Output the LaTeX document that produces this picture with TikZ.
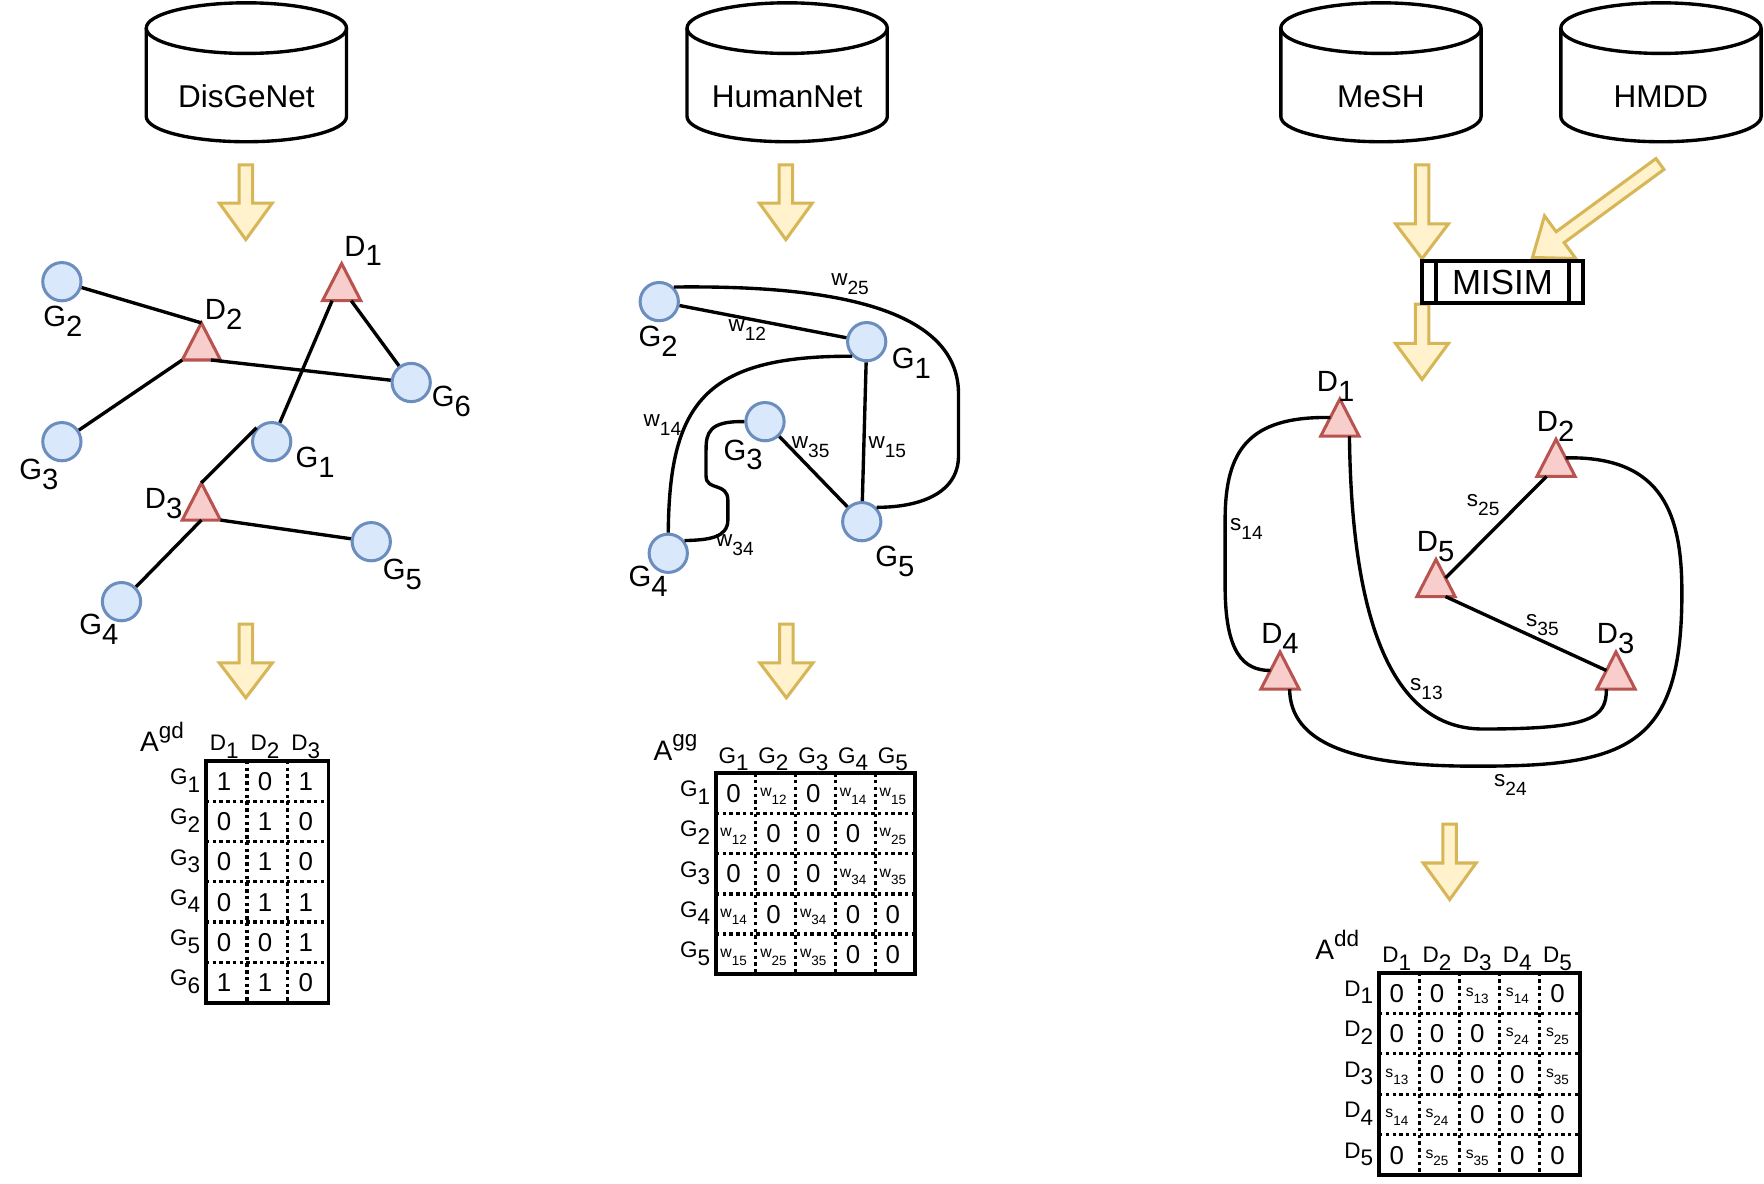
\documentclass[tikz,border=0pt]{standalone}
\usepackage{fontspec}
\setmainfont{Liberation Sans}
\usetikzlibrary{calc}
\definecolor{gfill}{HTML}{DAE8FC}
\definecolor{gline}{HTML}{6C8EBF}
\definecolor{dfill}{HTML}{F8CECC}
\definecolor{dline}{HTML}{B85450}
\definecolor{afill}{HTML}{FFF2CC}
\definecolor{aline}{HTML}{D6B656}
\newcommand{\fsz}[1]{\fontsize{#1}{#1}\selectfont}
\newcommand{\nlab}[2]{#1\raisebox{-0.34em}{#2}}
\newcommand{\elab}[2]{#1\raisebox{-0.4em}{\fsz{17}#2}}
\newcommand{\clab}[2]{\raisebox{5.2pt}{\fsz{14}#1\raisebox{-0.48em}{\fsz{12}#2}}}
\newcommand{\amat}[2]{#1\raisebox{11.8pt}{\fsz{20}#2}}
\newcommand{\barrow}[4]{\draw[arrowst] ({#1-6},{#2}) -- ({#1-6},{#2+#3}) -- ({#1-23.5},{#2+#3}) -- ({#1},{#2+#3+#4}) -- ({#1+23.5},{#2+#3}) -- ({#1+6},{#2+#3}) -- ({#1+6},{#2}) -- cycle;}
\newcommand{\cyl}[1]{\draw[cylst] (#1,25) ellipse [x radius=89, y radius=22.5];
  \draw[cylst] ({#1-89},25) -- ({#1-89},103.5) arc[start angle=180, end angle=0, x radius=89, y radius=22.5] -- ({#1+89},25);}
\tikzset{
  gnode/.style={circle, draw=gline, fill=gfill, line width=2.7, minimum size=34, inner sep=0pt},
  link/.style={line width=3},
  nlabel/.style={font=\fsz{26}, inner sep=0pt, anchor=base west},
  wlabel/.style={font=\fsz{20}, inner sep=0pt, anchor=base west},
  arrowst/.style={fill=afill, draw=aline, line width=2.7},
  cylst/.style={line width=3},
  dbtext/.style={font=\fsz{28}, inner sep=0pt, anchor=base},
  mbox/.style={line width=3.5},
  mdot/.style={line width=3, dash pattern=on 3pt off 3pt},
  cell/.style={font=\fsz{23}, inner sep=0pt, anchor=base},
  rowlab/.style={font=\fsz{20}, inner sep=0pt, anchor=base east},
  collab/.style={font=\fsz{20}, inner sep=0pt, anchor=base},
  alab/.style={font=\fsz{25}, inner sep=0pt, anchor=base west},
  misimst/.style={draw, line width=3.3, minimum width=143, minimum height=37.6, inner sep=0pt, font=\fsz{31}},
  tri/.pic={\draw[fill=dfill, draw=dline, line width=2.7] (0,-16.5) coordinate (-apex) -- (17,16.5) coordinate (-right) -- (-17,16.5) coordinate (-left) -- cycle;
    \coordinate (-base) at (0,16.5);}
}
\begin{document}
\begin{tikzpicture}[x=1pt,y=-1pt]
\fill[white] (0,0) rectangle (1568,1052);
\useasboundingbox (0,0) rectangle (1568,1052);

% ---------- databases ----------
\cyl{219}
\node[dbtext] (disgenet) at (219,95.5) {DisGeNet};
\cyl{699.7}
\node[dbtext] (humannet) at (699.7,95.5) {HumanNet};
\cyl{1227.5}
\node[dbtext] (mesh) at (1227.5,95.5) {MeSH};
\cyl{1476.4}
\node[dbtext] (hmdd) at (1476.4,95.5) {HMDD};

% ---------- block arrows ----------
\barrow{218.5}{146.5}{34}{32.5}
\barrow{218.5}{554.8}{34.5}{31}
\barrow{698.5}{146.5}{34}{32.5}
\barrow{699}{554.8}{34.5}{31}
\barrow{1264}{146.5}{52.5}{31}
\barrow{1264}{270.3}{35}{32}
\barrow{1288.6}{732.6}{34.5}{32.5}
\begin{scope}[shift={(1476.3,145.2)}, rotate=-53.75]
\barrow{0}{1}{110}{30.5}
\end{scope}

% ---------- MISIM ----------
\node[misimst] (misim) at (1335.5,250.8) {MISIM};
\draw[line width=3.3] ([xshift=14.3pt]misim.north west) -- ([xshift=14.3pt]misim.south west);
\draw[line width=3.3] ([xshift=-14.3pt]misim.north east) -- ([xshift=-14.3pt]misim.south east);

% ---------- graph 1 ----------
\node[gnode] (aG2) at (55,250.4) {};
\node[gnode] (aG6) at (365.5,340) {};
\node[gnode] (aG3) at (55,392.6) {};
\node[gnode] (aG1) at (241.5,392.6) {};
\node[gnode] (aG5) at (330,481.5) {};
\node[gnode] (aG4) at (108,534.8) {};
\pic (aD1) at (303.7,250.8) {tri};
\pic (aD2) at (179,303.5) {tri};
\pic (aD3) at (179,445.8) {tri};
\draw[link] (aG2) -- (aD2-apex);
\draw[link] ($(aD2-base)!0.5!(aD2-right)$) -- (aG6);
\draw[link] (aD2-left) -- (aG3);
\draw[link] ($(aD1-base)!0.5!(aD1-left)$) -- (aG1);
\draw[link] ($(aD1-base)!0.5!(aD1-right)$) -- (aG6);
\draw[link] (aG1.137) -- (aD3-apex);
\draw[link] (aD3-right) -- (aG5);
\draw[link] (aD3-base) -- (aG4);
\node[nlabel] (laG2) at (38.4,290.4) {\nlab{G}{2}};
\node[nlabel] (laD2) at (182,284.4) {\nlab{D}{2}};
\node[nlabel] (laD1) at (306,227.6) {\nlab{D}{1}};
\node[nlabel] (laG6) at (383.7,361.5) {\nlab{G}{6}};
\node[nlabel] (laG3) at (17,426) {\nlab{G}{3}};
\node[nlabel] (laG1) at (262.6,415.4) {\nlab{G}{1}};
\node[nlabel] (laD3) at (128.6,451.9) {\nlab{D}{3}};
\node[nlabel] (laG5) at (340.2,515) {\nlab{G}{5}};
\node[nlabel] (laG4) at (70.4,564.4) {\nlab{G}{4}};

% ---------- graph 2 ----------
\node[gnode] (bG2) at (586,268.1) {};
\node[gnode] (bG1) at (770.4,303.7) {};
\node[gnode] (bG3) at (680,374.8) {};
\node[gnode] (bG4) at (594,491.8) {};
\node[gnode] (bG5) at (766,463.7) {};
\draw[link] (bG2) -- (bG1);
\draw[link] (bG2.45) .. controls (700,254) and (852,262) .. (852,350) -- (852,405) .. controls (852,440) and (815,451) .. (bG5.44);
\draw[link] (bG1.225) .. controls (625,316) and (595,360) .. (bG4.north);
\draw[link] (bG3.west) .. controls (630,374) and (627.6,385) .. (627.6,400) -- (627.6,423) .. controls (627.6,437) and (647,428) .. (647,445) -- (647,462) .. controls (647,478) and (630,480) .. (bG4.38);
\draw[link] (bG3) -- (bG5);
\draw[link] (bG1) -- (bG5);
\node[nlabel] (lbG2) at (567.4,308.1) {\nlab{G}{2}};
\node[nlabel] (lbG1) at (792.6,327.4) {\nlab{G}{1}};
\node[nlabel] (lbG3) at (643,408.9) {\nlab{G}{3}};
\node[nlabel] (lbG4) at (558.5,521.5) {\nlab{G}{4}};
\node[nlabel] (lbG5) at (777.8,503.7) {\nlab{G}{5}};
\node[wlabel] (w25) at (738.7,254.2) {\elab{w}{25}};
\node[wlabel] (w12) at (647.4,294.8) {\elab{w}{12}};
\node[wlabel] (w14) at (571.9,379.3) {\elab{w}{14}};
\node[wlabel] (w35) at (703.7,398.5) {\elab{w}{35}};
\node[wlabel] (w15) at (771.8,398.5) {\elab{w}{15}};
\node[wlabel] (w34) at (636.4,486) {\elab{w}{34}};

% ---------- graph 3 ----------
\pic (cD1) at (1191,371.1) {tri};
\pic (cD2) at (1383.1,407) {tri};
\pic (cD5) at (1276.4,513.8) {tri};
\pic (cD4) at (1137.8,596) {tri};
\pic (cD3) at (1436.4,596) {tri};
\draw[link] ($(cD1-apex)!0.5!(cD1-left)$) .. controls (1110,370) and (1089,400) .. (1089,462) -- (1089,521) .. controls (1089,580) and (1105,596) .. ($(cD4-apex)!0.5!(cD4-left)$);
\draw[link] ($(cD1-base)!0.5!(cD1-right)$) .. controls (1201,520) and (1225,648) .. (1318,648) .. controls (1415,648) and (1428,638) .. ($(cD3-base)!0.5!(cD3-left)$);
\draw[link] ($(cD2-apex)!0.5!(cD2-right)$) .. controls (1480,405) and (1495,460) .. (1495,527) .. controls (1495,660) and (1450,681) .. (1318,681) .. controls (1200,682) and (1147,660) .. ($(cD4-base)!0.5!(cD4-right)$);
\draw[link] ($(cD5-apex)!0.5!(cD5-right)$) -- ($(cD2-left)!0.5!(cD2-base)$);
\draw[link] ($(cD5-base)!0.5!(cD5-right)$) -- ($(cD3-apex)!0.5!(cD3-left)$);
\node[nlabel] (lcD1) at (1170.4,348.1) {\nlab{D}{1}};
\node[nlabel] (lcD2) at (1366,383.7) {\nlab{D}{2}};
\node[nlabel] (lcD5) at (1259.3,490.4) {\nlab{D}{5}};
\node[nlabel] (lcD4) at (1121,571.9) {\nlab{D}{4}};
\node[nlabel] (lcD3) at (1419.3,571.9) {\nlab{D}{3}};
\node[wlabel] (s25) at (1303.7,450.4) {\elab{s}{25}};
\node[wlabel] (s14) at (1093.3,471.7) {\elab{s}{14}};
\node[wlabel] (s35) at (1356.4,557) {\elab{s}{35}};
\node[wlabel] (s13) at (1253.3,614) {\elab{s}{13}};
\node[wlabel] (s24) at (1328,698.7) {\elab{s}{24}};

% ---------- matrix A^gd ----------
\foreach \i in {1,2} \draw[mdot] ({183.1+\i*36.3},676.4) -- ({183.1+\i*36.3},891.2);
\foreach \j in {1,...,5} \draw[mdot] (183.1,{676.4+\j*35.8}) -- (292,{676.4+\j*35.8});
\draw[mbox] (183.1,676.4) rectangle (292,891.2);
\foreach \r/\row in {1/{1,0,1},2/{0,1,0},3/{0,1,0},4/{0,1,1},5/{0,0,1},6/{1,1,0}}{
  \foreach \v [count=\c] in \row {\node[cell] (mA-\r-\c) at ({183.1+(\c-0.5)*36.3-2},{676.4+(\r-0.5)*35.8+8.2}) {\v};}
  \node[rowlab] (mA-r\r) at (178,{676.4+(\r-0.5)*35.8+3}) {\nlab{G}{\r}};
}
\foreach \c in {1,2,3} \node[collab] (mA-c\c) at ({183.1+(\c-0.5)*36.3-2},667.4) {\nlab{D}{\c}};
\node[alab] (mA) at (124.4,668.1) {\amat{A}{gd}};

% ---------- matrix A^gg ----------
\foreach \i in {1,...,4} \draw[mdot] ({636.4+\i*35.4},687.4) -- ({636.4+\i*35.4},865.9);
\foreach \j in {1,...,4} \draw[mdot] (636.4,{687.4+\j*35.7}) -- (813.4,{687.4+\j*35.7});
\draw[mbox] (636.4,687.4) rectangle (813.4,865.9);
\foreach \r/\row in {1/{0,\clab{w}{12},0,\clab{w}{14},\clab{w}{15}},
                     2/{\clab{w}{12},0,0,0,\clab{w}{25}},
                     3/{0,0,0,\clab{w}{34},\clab{w}{35}},
                     4/{\clab{w}{14},0,\clab{w}{34},0,0},
                     5/{\clab{w}{15},\clab{w}{25},\clab{w}{35},0,0}}{
  \foreach \v [count=\c] in \row {\node[cell] (mB-\r-\c) at ({636.4+(\c-0.5)*35.4-2},{687.4+(\r-0.5)*35.7+8.2}) {\v};}
  \node[rowlab] (mB-r\r) at (631.4,{687.4+(\r-0.5)*35.7+3}) {\nlab{G}{\r}};
}
\foreach \c in {1,...,5} \node[collab] (mB-c\c) at ({636.4+(\c-0.5)*35.4-2},678.4) {\nlab{G}{\c}};
\node[alab] (mB) at (580.7,675.6) {\amat{A}{gg}};

% ---------- matrix A^dd ----------
\foreach \i in {1,...,4} \draw[mdot] ({1225.8+\i*35.7},864.6) -- ({1225.8+\i*35.7},1044.6);
\foreach \j in {1,...,4} \draw[mdot] (1225.8,{864.6+\j*36}) -- (1404.3,{864.6+\j*36});
\draw[mbox] (1225.8,864.6) rectangle (1404.3,1044.6);
\foreach \r/\row in {1/{0,0,\clab{s}{13},\clab{s}{14},0},
                     2/{0,0,0,\clab{s}{24},\clab{s}{25}},
                     3/{\clab{s}{13},0,0,0,\clab{s}{35}},
                     4/{\clab{s}{14},\clab{s}{24},0,0,0},
                     5/{0,\clab{s}{25},\clab{s}{35},0,0}}{
  \foreach \v [count=\c] in \row {\node[cell] (mC-\r-\c) at ({1225.8+(\c-0.5)*35.7-2},{864.6+(\r-0.5)*36+8.2}) {\v};}
  \node[rowlab] (mC-r\r) at (1220.8,{864.6+(\r-0.5)*36+3}) {\nlab{D}{\r}};
}
\foreach \c in {1,...,5} \node[collab] (mC-c\c) at ({1225.8+(\c-0.5)*35.7-2},855.6) {\nlab{D}{\c}};
\node[alab] (mC) at (1168.9,853.3) {\amat{A}{dd}};
\end{tikzpicture}
\end{document}
